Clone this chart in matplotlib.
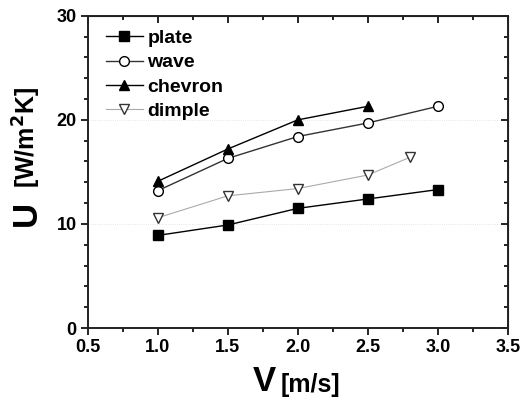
import numpy as np
import matplotlib.pyplot as plt
from matplotlib.ticker import MultipleLocator

plt.rcParams['font.family'] = ['Liberation Sans', 'DejaVu Sans']
plt.rcParams['font.weight'] = 'bold'

# velocities and overall heat transfer coefficients
v_plate = [1.0, 1.5, 2.0, 2.5, 3.0]
u_plate = [8.9, 9.9, 11.5, 12.4, 13.3]
v_wave = [1.0, 1.5, 2.0, 2.5, 3.0]
u_wave = [13.2, 16.3, 18.4, 19.7, 21.3]
v_chevron = [1.0, 1.5, 2.0, 2.5]
u_chevron = [14.1, 17.2, 20.0, 21.3]
v_dimple = [1.0, 1.5, 2.0, 2.5, 2.8]
u_dimple = [10.6, 12.7, 13.4, 14.7, 16.4]

fig = plt.figure(figsize=(5.23, 4.04), dpi=100)
ax = fig.add_axes([0.168, 0.188, 0.803, 0.773])

ax.plot(v_plate, u_plate, '-s', color='black', lw=1, ms=6.5, mfc='black', label='plate')
ax.plot(v_wave, u_wave, '-o', color='#333333', lw=1, ms=7, mfc='white', mec='black', label='wave')
ax.plot(v_chevron, u_chevron, '-^', color='black', lw=1, ms=7.5, mfc='black', label='chevron')
ax.plot(v_dimple, u_dimple, '-v', color='#aaaaaa', lw=0.8, ms=7.5, mfc='white', mec='#333333', label='dimple')

# faint grid at majors
for yv in [10, 20]:
    ax.axhline(yv, color='#dddddd', lw=0.6, ls=':', zorder=0)

ax.set_xlim(0.5, 3.5)
ax.set_ylim(0, 30)
ax.xaxis.set_major_locator(MultipleLocator(0.5))
ax.xaxis.set_minor_locator(MultipleLocator(0.25))
ax.yaxis.set_major_locator(MultipleLocator(10))
ax.yaxis.set_minor_locator(MultipleLocator(2))

ax.tick_params(which='both', direction='out', top=False, right=False, width=1.2,
               labelsize=13, pad=3)
ax.tick_params(which='major', length=5)
ax.tick_params(which='minor', length=3)
for s in ax.spines.values():
    s.set_linewidth(1.4)
    s.set_color('#222222')

# inward ticks on top and right
tx = ax.secondary_xaxis('top')
tx.set_xticks(np.arange(0.5, 3.51, 0.5))
tx.xaxis.set_minor_locator(MultipleLocator(0.25))
tx.tick_params(which='both', direction='in', labeltop=False, width=1.2)
tx.tick_params(which='major', length=5)
tx.tick_params(which='minor', length=3)
ty = ax.secondary_yaxis('right')
ty.set_yticks([0, 10, 20, 30])
ty.yaxis.set_minor_locator(MultipleLocator(2))
ty.tick_params(which='both', direction='in', labelright=False, width=1.2)
ty.tick_params(which='major', length=5)
ty.tick_params(which='minor', length=3)

for lab in ax.get_xticklabels() + ax.get_yticklabels():
    lab.set_fontweight('bold')

# axis titles: big symbol, smaller unit
fig.text(0.484, 0.015, 'V', fontsize=25, fontweight='bold', ha='left', va='bottom')
fig.text(0.537, 0.018, '[m/s]', fontsize=18, fontweight='bold', ha='left', va='bottom')
fig.text(0.018, 0.44, 'U', fontsize=25, fontweight='bold', rotation=90, ha='left', va='bottom')
fig.text(0.020, 0.535, '[W/m$^\\mathbf{2}$K]', fontsize=18, fontweight='bold', rotation=90,
         ha='left', va='bottom')

ax.legend(loc='upper left', bbox_to_anchor=(0.01, 1.0), frameon=False,
          handlelength=1.9, handletextpad=0.25, labelspacing=0.35, borderaxespad=0.3,
          prop={'weight': 'bold', 'size': 14})

fig.savefig('out.png', dpi=100)
